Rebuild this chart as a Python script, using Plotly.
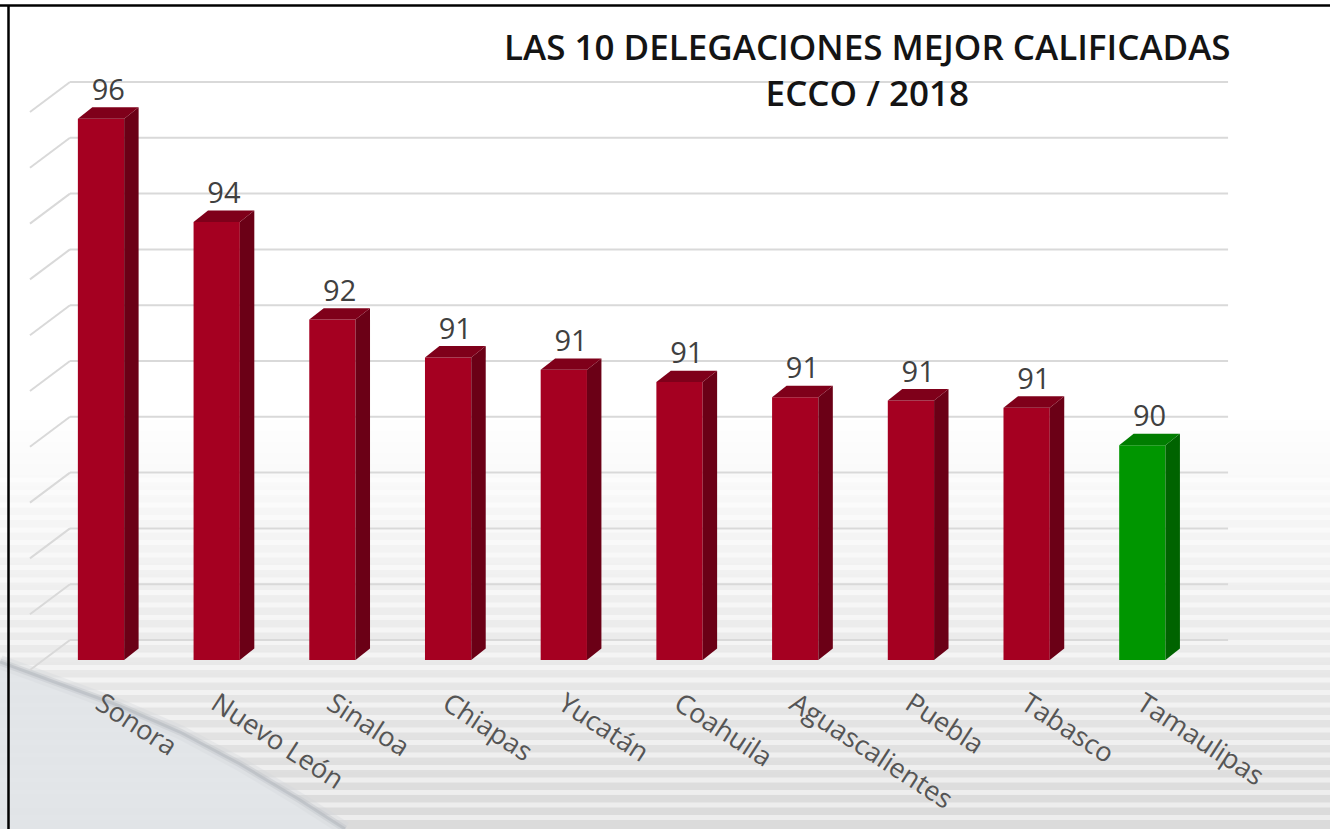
import plotly.graph_objects as go

# ---- data ----
delegaciones = ["Sonora", "Nuevo León", "Sinaloa", "Chiapas", "Yucatán",
                "Coahuila", "Aguascalientes", "Puebla", "Tabasco", "Tamaulipas"]
calificacion = [95.70, 93.85, 92.10, 91.42, 91.20, 90.98, 90.71, 90.65, 90.52, 89.85]
destacada = "Tamaulipas"
niveles = list(range(86, 97))          # horizontal guide levels
piso = 86                              # value at the floor of the chart

titulo = "LAS 10 DELEGACIONES MEJOR CALIFICADAS"
subtitulo = "ECCO / 2018"

# ---- geometry / style ----
W, H = 1330, 829
x_range = [-0.873, 10.622]
y_range = [82.971, 97.828]
ancho = 0.40           # width of the bar front face (category units)
dx, dy = 0.125, 0.205  # oblique depth of each bar (x units, value units)
pared_x0, pared_x1 = -0.614, -0.268   # left edge of the floor / back wall corner
pared_dy = 0.537       # rise of the back wall lines over the floor depth
pared_y0 = -0.179      # front edge of the floor relative to the bar faces
pared_x_fin = 9.741

ROJO = ("#A50021", "#6B0016", "#7F001A")   # front, side, top
VERDE = ("#009600", "#006300", "#007D00")
FUENTE = "Open Sans"

idx = list(range(len(delegaciones)))
paleta = [VERDE if d == destacada else ROJO for d in delegaciones]

fig = go.Figure()

# front faces
fig.add_trace(go.Bar(
    x=idx, y=[v - piso for v in calificacion], base=piso, width=ancho,
    marker=dict(color=[p[0] for p in paleta], line=dict(width=0)),
    hoverinfo="skip", showlegend=False,
))

# side and top faces
for i, v, p in zip(idx, calificacion, paleta):
    xr = i + ancho / 2
    xl = i - ancho / 2
    fig.add_trace(go.Scatter(
        x=[xr, xr, xr + dx, xr + dx, xr], y=[piso, v, v + dy, piso + dy, piso],
        mode="lines", fill="toself", fillcolor=p[1], line=dict(width=0),
        hoverinfo="skip", showlegend=False,
    ))
    fig.add_trace(go.Scatter(
        x=[xl, xr, xr + dx, xl + dx, xl], y=[v, v, v + dy, v + dy, v],
        mode="lines", fill="toself", fillcolor=p[2], line=dict(width=0),
        hoverinfo="skip", showlegend=False,
    ))

# value labels
fig.add_trace(go.Scatter(
    x=[i + dx / 2 for i in idx], y=[v + dy for v in calificacion],
    customdata=calificacion, texttemplate="%{customdata:.0f}",
    mode="text", textposition="top center",
    textfont=dict(family=FUENTE, size=29, color="#404040"),
    hoverinfo="skip", showlegend=False,
))

shapes = []
def px(x, y):
    return x / W, 1 - y / H

# background: soft grey shading towards the bottom
for k in range(36):
    y0 = 420 + k * 11
    shapes.append(dict(type="rect", xref="paper", yref="paper", layer="below",
                       x0=0, x1=1, y0=0, y1=1 - y0 / H,
                       fillcolor="#dcdcdc", opacity=0.018, line=dict(width=0)))
# faint horizontal texture
for k in range(28):
    yy = 480 + k * 12.5
    shapes.append(dict(type="line", xref="paper", yref="paper", layer="below",
                       x0=0, x1=1, y0=1 - yy / H, y1=1 - yy / H,
                       line=dict(color="#ffffff", width=5), opacity=0.5))

# curved sheet in the lower-left corner
curva = [(0, 662), (60, 684), (120, 706), (180, 732), (240, 764), (300, 800), (345, 829)]

def ruta(puntos, cerrar):
    s = " ".join(("M" if n == 0 else "L") + "{:.5f},{:.5f}".format(*px(a, b))
                 for n, (a, b) in enumerate(puntos))
    return s + (" Z" if cerrar else "")

shapes.append(dict(type="path", xref="paper", yref="paper", layer="below",
                   path=ruta(curva + [(0, 829)], True),
                   fillcolor="#e2e5e8", opacity=0.95, line=dict(width=0)))
for w_, c_, o_ in [(14, "#d4d7db", 0.35), (7, "#c3c7cc", 0.45), (3, "#b3b8be", 0.55)]:
    shapes.append(dict(type="path", xref="paper", yref="paper", layer="below",
                       path=ruta(curva, False), line=dict(color=c_, width=w_), opacity=o_))

# back-wall guide lines
for n in niveles:
    shapes.append(dict(type="line", xref="x", yref="y", layer="below",
                       x0=pared_x0, y0=n + pared_y0,
                       x1=pared_x1, y1=n + pared_y0 + pared_dy,
                       line=dict(color="#d9d9d9", width=2)))
    shapes.append(dict(type="line", xref="x", yref="y", layer="below",
                       x0=pared_x1, y0=n + pared_y0 + pared_dy,
                       x1=pared_x_fin, y1=n + pared_y0 + pared_dy,
                       line=dict(color="#d9d9d9", width=2)))

# frame
shapes.append(dict(type="line", xref="paper", yref="paper", x0=0, x1=1,
                   y0=1 - 5.5 / H, y1=1 - 5.5 / H, line=dict(color="#000", width=2.5)))
shapes.append(dict(type="line", xref="paper", yref="paper", x0=8.5 / W, x1=8.5 / W,
                   y0=0, y1=1 - 5 / H, line=dict(color="#000", width=2.5)))

fig.update_layout(
    width=W, height=H,
    margin=dict(l=0, r=0, t=0, b=0),
    paper_bgcolor="#ffffff", plot_bgcolor="rgba(0,0,0,0)",
    shapes=shapes,
    xaxis=dict(range=x_range, tickvals=idx, ticktext=delegaciones, tickangle=33,
               anchor="free", position=1 - 682 / H,
               showgrid=False, zeroline=False, showline=False, ticks="",
               tickfont=dict(family=FUENTE, size=27, color="#555555")),
    yaxis=dict(range=y_range, showgrid=False, zeroline=False, showticklabels=False),
    annotations=[
        dict(text=titulo + "<br>" + subtitulo, xref="paper", yref="paper",
             x=867 / W, y=1 - 69 / H, align="center",
             showarrow=False, xanchor="center", yanchor="middle",
             font=dict(family=FUENTE, size=35, color="#141414", weight=600)),
    ],
)

fig.write_html("out.html")
